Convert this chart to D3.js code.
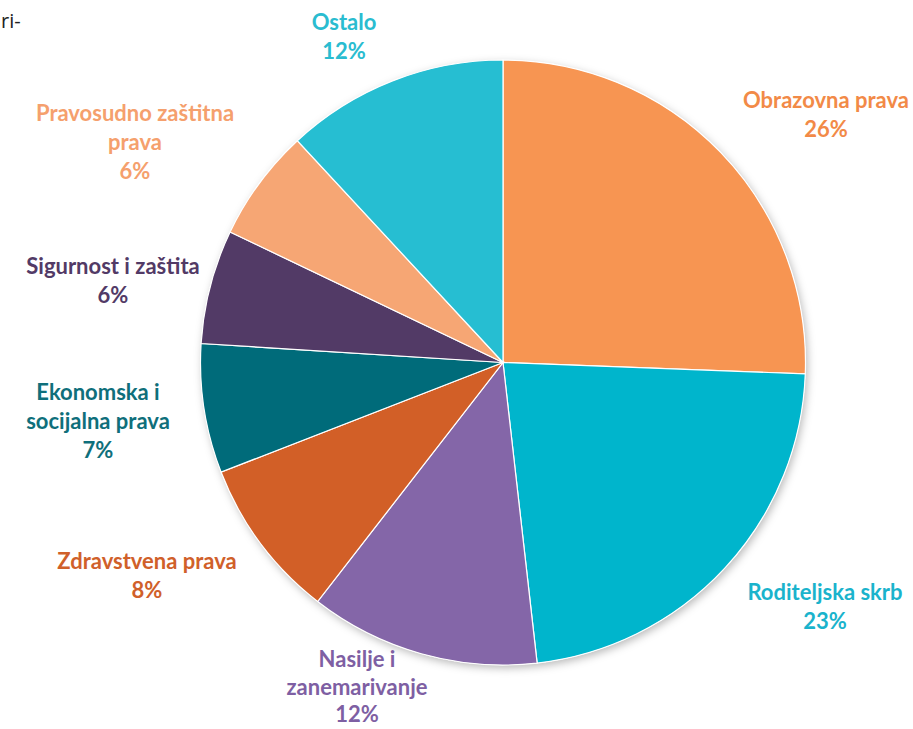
<!DOCTYPE html>
<html>
<head>
<meta charset="utf-8">
<script src="https://cdn.jsdelivr.net/npm/d3@7"></script>
<style>
  body { margin: 0; background: #fff; }
  svg { display: block; }
</style>
</head>
<body>
<div id="chart"></div>
<script>
// categories, clockwise from 12 o'clock
const categories = ["Obrazovna prava", "Roditeljska skrb", "Nasilje i zanemarivanje",
  "Zdravstvena prava", "Ekonomska i socijalna prava", "Sigurnost i zaštita",
  "Pravosudno zaštitna prava", "Ostalo"];
// slice shares
const shares = [25.6, 22.6, 12.3, 8.6, 6.9, 6.1, 6.0, 11.9];
// percentages as printed on the labels
const pctLabels = ["26%", "23%", "12%", "8%", "7%", "6%", "6%", "12%"];
// how the label text wraps
const labelLines = [
  ["Obrazovna prava"],
  ["Roditeljska skrb"],
  ["Nasilje i", "zanemarivanje"],
  ["Zdravstvena prava"],
  ["Ekonomska i", "socijalna prava"],
  ["Sigurnost i zaštita"],
  ["Pravosudno zaštitna", "prava"],
  ["Ostalo"]
];

const sliceColors = ["#F79552", "#00B5CC", "#8466A8", "#D25F27", "#006B7A", "#523A66", "#F6A674", "#26BED2"];
const textColors  = ["#F28A47", "#1AB3CC", "#7E5FA3", "#D0602A", "#0F6F7B", "#523A66", "#F5A06D", "#2ABCD0"];

// label anchors (x centre, first baseline, line step)
const labelPos = [
  [826, 108, 29], [825, 600, 29], [357, 667, 27.5], [147, 569, 29],
  [98, 400, 29], [113, 274, 29], [135, 121, 29], [344, 30, 29]
];

const width = 913, height = 729;
const cx = 503, cy = 362.5, radius = 302.5;

const svg = d3.select("#chart").append("svg")
  .attr("width", width).attr("height", height);

const defs = svg.append("defs");
const f = defs.append("filter").attr("id", "shadow")
  .attr("x", "-10%").attr("y", "-10%").attr("width", "120%").attr("height", "120%");
f.append("feDropShadow").attr("dx", 2).attr("dy", 3).attr("stdDeviation", 4)
  .attr("flood-color", "#000").attr("flood-opacity", 0.28);

const data = categories.map((c, i) => ({ name: c, value: shares[i], i }));

const pie = d3.pie().value(d => d.value).sort(null);
const arc = d3.arc().innerRadius(0).outerRadius(radius);

const g = svg.append("g").attr("transform", `translate(${cx}, ${cy})`);

g.append("circle").attr("r", radius).attr("fill", "#fff").attr("filter", "url(#shadow)");

g.selectAll("path")
  .data(pie(data))
  .join("path")
    .attr("d", arc)
    .attr("fill", d => sliceColors[d.data.i])
    .attr("stroke", "#fff")
    .attr("stroke-width", 1.2);

const labels = svg.append("g")
  .attr("font-family", "Lato, 'Open Sans', sans-serif")
  .attr("font-weight", "bold")
  .attr("font-size", "22px")
  .attr("text-anchor", "middle");

data.forEach((d, i) => {
  const [lx, ly, step] = labelPos[i];
  const t = labels.append("text")
    .attr("x", lx)
    .attr("y", ly)
    .attr("fill", textColors[i]);
  labelLines[i].concat([pctLabels[i]]).forEach((line, k) => {
    t.append("tspan").attr("x", lx).attr("dy", k === 0 ? 0 : step).text(line);
  });
});

// fragment of the surrounding text at the top left
svg.append("text")
  .attr("x", 1).attr("y", 28)
  .attr("font-family", "'Open Sans', sans-serif")
  .attr("font-size", "20px")
  .attr("fill", "#222")
  .text("ri-");
</script>
</body>
</html>
